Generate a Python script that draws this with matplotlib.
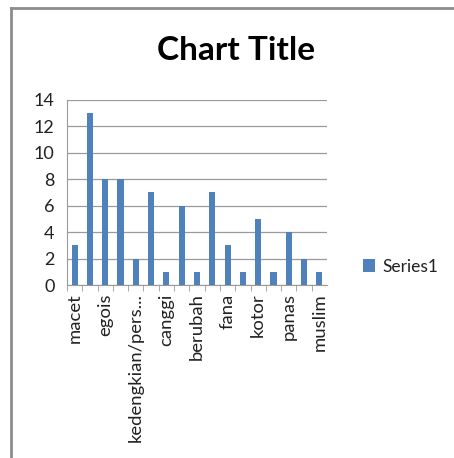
import matplotlib.pyplot as plt
from matplotlib.lines import Line2D
from matplotlib.patches import Patch

plt.rcParams['font.family'] = ['Lato', 'DejaVu Sans']

# data
categories = ['macet', '', 'egois', '', 'kedengkian/pers...', '', 'canggi', '',
              'berubah', '', 'fana', '', 'kotor', '', 'panas', '', 'muslim']
values = [3, 13, 8, 8, 2, 7, 1, 6, 1, 7, 3, 1, 5, 1, 4, 2, 1]
yticks = [0, 2, 4, 6, 8, 10, 12, 14]
bar_color = '#4f81bd'

fig = plt.figure(figsize=(4.54, 4.58), dpi=100)
ax = fig.add_axes([0.1476, 0.3777, 0.5727, 0.404])

x = list(range(len(values)))
ax.bar(x, values, width=0.4, color=bar_color, zorder=3)

ax.set_xlim(-0.5, len(values) - 0.5)
ax.set_ylim(0, 14)
ax.set_yticks(yticks)
ax.set_yticklabels([str(v) for v in yticks], fontsize=13, color='#222222')
ax.set_xticks(x)
ax.set_xticklabels(categories, rotation=90, fontsize=13.3, color='#222222')
ax.tick_params(axis='y', length=0, pad=9)
ax.tick_params(axis='x', length=0, pad=6)
# minor ticks between categories like excel
ax.set_xticks([i + 0.5 for i in x[:-1]] + [-0.5], minor=True)
ax.tick_params(axis='x', which='minor', length=4, color='#999999', direction='out')

ax.grid(axis='y', color='#9a9a9a', linewidth=0.9, zorder=0)
for s in ['top', 'right']:
    ax.spines[s].set_visible(False)
ax.spines['left'].set_color('#9a9a9a')
ax.spines['bottom'].set_color('#9a9a9a')

fig.text(0.52, 0.89, 'Chart Title', ha='center', va='center', fontsize=24,
         fontweight='bold', color='black')

fig.legend(handles=[Patch(facecolor=bar_color, label='Series1')],
           loc='center left', bbox_to_anchor=(0.765, 0.418), frameon=False,
           fontsize=12.5, handlelength=0.7, handleheight=0.7, handletextpad=0.4,
           labelcolor='#222222')

# outer chart border (left and top only visible)
fig.add_artist(Line2D([0.025, 0.025], [0, 0.983], transform=fig.transFigure,
                      color='#8c8c8c', linewidth=2))
fig.add_artist(Line2D([0.025, 1.0], [0.983, 0.983], transform=fig.transFigure,
                      color='#8c8c8c', linewidth=2))

fig.savefig('out.png', dpi=100)
